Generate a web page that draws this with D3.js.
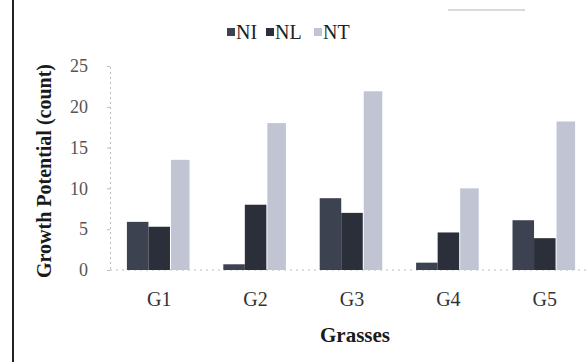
<!DOCTYPE html>
<meta charset="utf-8">
<style>
    body { margin: 0; background: #fff; }
    text { font-family: "Liberation Serif", "Times New Roman", serif; }
    .axis-label { font-weight: bold; fill: #1a1a1a; }
</style>

<svg width="588" height="362"></svg>
<script src="https://d3js.org/d3.v7.min.js"></script>
<script>

    var grasses = ["G1", "G2", "G3", "G4", "G5"];
    var series = ["NI", "NL", "NT"];
    var niValues = [5.9, 0.7, 8.8, 0.9, 6.1];
    var nlValues = [5.3, 8.0, 7.0, 4.6, 3.9];
    var ntValues = [13.5, 18.0, 21.9, 10.0, 18.2];
    var yTicks = [0, 5, 10, 15, 20, 25];

    var valuesBySeries = { NI: niValues, NL: nlValues, NT: ntValues };
    var colors = d3.scaleOrdinal()
        .domain(series)
        .range(["#3c4250", "#2b2f39", "#c0c4d3"]);

    var svg = d3.select("svg");

    // scanned page border on the left
    svg.append("line")
        .attr("x1", 13).attr("x2", 13)
        .attr("y1", 0).attr("y2", 362)
        .attr("stroke", "#222")
        .attr("stroke-width", 2);

    svg.append("line")
        .attr("x1", 448).attr("x2", 525)
        .attr("y1", 10).attr("y2", 10)
        .attr("stroke", "#ccc")
        .attr("stroke-width", 1.5);

    var x0 = d3.scaleBand()
        .domain(grasses)
        .range([111, 593])
        .paddingInner(0.33)
        .paddingOuter(0.165);

    var x1 = d3.scaleBand()
        .domain(series)
        .range([0, x0.bandwidth()]);

    var yScale = d3.scaleLinear()
        .domain([0, 25])
        .range([270, 66]);

    // y axis
    var yAxis = svg.append("g")
        .attr("transform", "translate(110,0)")
        .call(d3.axisLeft(yScale).tickValues(yTicks).tickSize(3).tickPadding(19));
    yAxis.select(".domain")
        .attr("stroke", "#bbb")
        .attr("stroke-dasharray", "2,3");
    yAxis.selectAll(".tick line").attr("stroke", "#bbb");
    yAxis.selectAll(".tick text")
        .style("font-family", "Liberation Serif")
        .style("font-size", "18px")
        .attr("fill", "#555");

    // x baseline
    svg.append("line")
        .attr("x1", 110).attr("x2", 588)
        .attr("y1", yScale(0)).attr("y2", yScale(0))
        .attr("stroke", "#bbb")
        .attr("stroke-dasharray", "2,4");

    var groups = svg.append("g")
        .selectAll("g")
        .data(grasses)
        .enter().append("g")
        .attr("transform", function (d) { return "translate(" + x0(d) + ",0)"; });

    groups.selectAll("rect")
        .data(function (g, gi) {
            return series.map(function (s) { return { key: s, value: valuesBySeries[s][gi] }; });
        })
        .enter().append("rect")
        .attr("x", function (d) { return d.key === "NT" ? x1(d.key) + 1 : x1(d.key); })
        .attr("width", function (d) { return d.key === "NT" ? x1.bandwidth() - 3 : x1.bandwidth(); })
        .attr("y", function (d) { return yScale(d.value); })
        .attr("height", function (d) { return yScale(0) - yScale(d.value); })
        .attr("fill", function (d) { return colors(d.key); });

    // x tick labels
    svg.append("g")
        .selectAll("text")
        .data(grasses)
        .enter().append("text")
        .attr("x", function (d) { return x0(d) + x0.bandwidth() / 2; })
        .attr("y", 306)
        .attr("text-anchor", "middle")
        .style("font-size", "20px")
        .attr("fill", "#333")
        .text(function (d) { return d; });

    svg.append("text")
        .attr("class", "axis-label")
        .attr("x", 355)
        .attr("y", 342)
        .attr("text-anchor", "middle")
        .style("font-size", "21px")
        .text("Grasses");

    svg.append("text")
        .attr("class", "axis-label")
        .attr("transform", "translate(51,171) rotate(-90)")
        .attr("text-anchor", "middle")
        .style("font-size", "20px")
        .text("Growth Potential (count)");

    // legend
    var legendX = [227, 266, 314];
    var legend = svg.append("g")
        .selectAll("g")
        .data(series)
        .enter().append("g")
        .attr("transform", function (d, i) { return "translate(" + legendX[i] + ",32)"; });

    legend.append("rect")
        .attr("y", -4)
        .attr("width", 8)
        .attr("height", 8)
        .attr("fill", colors);

    legend.append("text")
        .attr("x", 9)
        .attr("dy", "0.35em")
        .style("font-size", "20px")
        .attr("fill", "#222")
        .text(function (d) { return d; });

</script>
